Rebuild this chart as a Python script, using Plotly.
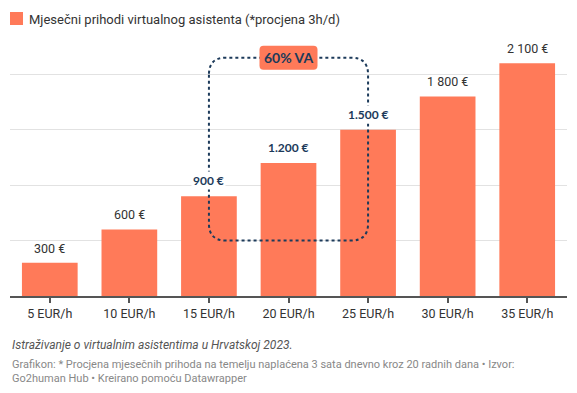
import plotly.graph_objects as go

categories = ["5 EUR/h", "10 EUR/h", "15 EUR/h", "20 EUR/h", "25 EUR/h", "30 EUR/h", "35 EUR/h"]
values = [300, 600, 900, 1200, 1500, 1800, 2100]
value_labels = ["300 €", "600 €", "900 €", "1.200 €", "1.500 €", "1 800 €", "2 100 €"]
highlighted = ["15 EUR/h", "20 EUR/h", "25 EUR/h"]
highlight_floor = 500
highlight_top = 2150
badge_text = "60% VA"
legend_text = "Mjesečni prihodi virtualnog asistenta (*procjena 3h/d)"
subtitle = "Istraživanje o virtualnim asistentima u Hrvatskoj 2023."
notes_line1 = "Grafikon: * Procjena mjesečnih prihoda na temelju naplaćena 3 sata dnevno kroz 20 radnih dana • Izvor:"
notes_line2 = "Go2human Hub • Kreirano pomoću Datawrapper"

BAR = "#ff7a59"
NAVY = "#1c3a5a"
FONT = "Roboto"

W, H = 577, 393
ML, MR, MT, MB = 10, 10, 41, 97
plot_h = H - MT - MB
YMAX = 2300
px_per_unit = plot_h / YMAX
px_per_cat = (W - ML - MR) / len(categories)

def py(p):
    return (H - MB - p) / plot_h

fig = go.Figure()
fig.add_trace(go.Bar(x=categories, y=values, marker=dict(color=BAR, line=dict(width=0)),
                     showlegend=False, hoverinfo="skip"))

# value labels
for c, v, lab in zip(categories, values, value_labels):
    if c in highlighted:
        fig.add_annotation(x=c, y=v, text=f"<b>{lab}</b>", showarrow=False, yanchor="bottom",
                           yshift=6, bgcolor="white", borderpad=1,
                           font=dict(family="Lato", size=12, color=NAVY))
    else:
        fig.add_annotation(x=c, y=v, text=lab, showarrow=False, yanchor="bottom", yshift=5,
                           font=dict(family=FONT, size=12.5, color="#333333"))

# dotted rounded highlight box
l = categories.index(highlighted[0])
r = categories.index(highlighted[-1])
b, t = highlight_floor, highlight_top
rx, ry = 17 / px_per_cat, 17 / px_per_unit
path = (f"M{l},{t-ry} L{l},{b+ry} Q{l},{b} {l+rx},{b} L{r-rx},{b} Q{r},{b} {r},{b+ry} "
        f"L{r},{t-ry} Q{r},{t} {r-rx},{t} L{l+rx},{t} Q{l},{t} {l},{t-ry}")
fig.add_shape(type="path", path=path, xref="x", yref="y", layer="above",
              line=dict(color=NAVY, width=2, dash="dot"))

# badge (rounded rect, 58x24 px)
m = (l + r) / 2
hw, hh, cr = 29 / px_per_cat, 12 / px_per_unit, 4
crx, cry = cr / px_per_cat, cr / px_per_unit
x0, x1, y0, y1 = m - hw, m + hw, t - hh, t + hh
bpath = (f"M{x0+crx},{y0} L{x1-crx},{y0} Q{x1},{y0} {x1},{y0+cry} L{x1},{y1-cry} Q{x1},{y1} {x1-crx},{y1} "
         f"L{x0+crx},{y1} Q{x0},{y1} {x0},{y1-cry} L{x0},{y0+cry} Q{x0},{y0} {x0+crx},{y0} Z")
fig.add_shape(type="path", xref="x", yref="y", layer="above", path=bpath,
              fillcolor=BAR, line=dict(width=0))
fig.add_annotation(x=categories[int(m)], y=t, text=f"<b>{badge_text}</b>", showarrow=False,
                   font=dict(family="Lato", size=14, color=NAVY))

# legend
fig.add_shape(type="rect", xref="paper", yref="paper",
              x0=0, x1=13 / (W - ML - MR), y0=py(25), y1=py(12),
              fillcolor=BAR, line=dict(width=0))
fig.add_annotation(xref="paper", yref="paper", x=17 / (W - ML - MR), y=py(19), text=legend_text,
                   showarrow=False, xanchor="left", yanchor="middle",
                   font=dict(family=FONT, size=13, color="#333333"))

# footer
fig.add_annotation(xref="paper", yref="paper", x=0, y=py(345), text=f"<i>{subtitle}</i>",
                   showarrow=False, xanchor="left", yanchor="middle",
                   font=dict(family=FONT, size=12, color="#555555"))
fig.add_annotation(xref="paper", yref="paper", x=0, y=py(364), text=notes_line1,
                   showarrow=False, xanchor="left", yanchor="middle",
                   font=dict(family=FONT, size=11, color="#888888"))
fig.add_annotation(xref="paper", yref="paper", x=0, y=py(378), text=notes_line2,
                   showarrow=False, xanchor="left", yanchor="middle",
                   font=dict(family=FONT, size=11, color="#888888"))

fig.update_layout(
    width=W, height=H, margin=dict(l=ML, r=MR, t=MT, b=MB),
    paper_bgcolor="white", plot_bgcolor="white", bargap=0.3,
    font=dict(family=FONT, color="#333333"),
    xaxis=dict(type="category", showgrid=False, showline=True, linecolor="#555555", linewidth=2,
               ticks="outside", ticklen=5, tickcolor="#555555", tickwidth=1.5,
               tickfont=dict(family=FONT, size=12.5, color="#333333")),
    yaxis=dict(range=[0, YMAX], tickvals=[500, 1000, 1500, 2000], showticklabels=False,
               showgrid=True, gridcolor="#e2e2e2", gridwidth=1, zeroline=False, showline=False),
)

fig.write_html("out.html", config={"displayModeBar": False},
               post_script="document.body.style.margin='0';document.body.style.overflow='hidden';")
